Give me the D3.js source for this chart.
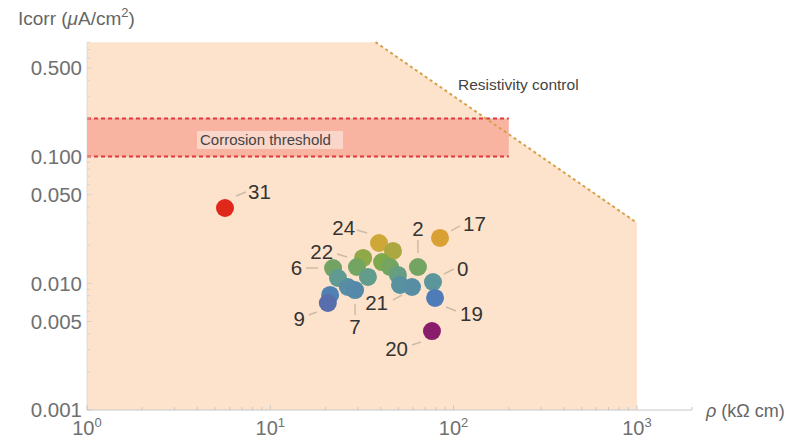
<!DOCTYPE html>
<html><head><meta charset="utf-8">
<script src="https://cdn.jsdelivr.net/npm/d3@7"></script>
<style>
html,body{margin:0;padding:0;background:#fff;}
text{font-family:"Liberation Sans",Arial,Helvetica,sans-serif;}
</style></head>
<body><svg id="chart" width="793" height="444"></svg>
<script>
// ---- data ----
const sampleIds = ["31","24","a1","17","2","22","a2","a3","a4","6","a5","a6","a7","a8","7","a9","21","0","19","a10","9","20"];
const resistivity = [5.66,39.2,46.7,84.3,63.9,32.1,29.7,40.7,45.0,22.0,34.1,49.7,23.4,26.5,29.0,51.0,59.3,77.2,79.2,21.2,20.6,76.2];
const icorr = [0.0393,0.0208,0.0180,0.0228,0.01345,0.01585,0.01345,0.01472,0.01345,0.0132,0.01122,0.01164,0.01101,0.00935,0.00885,0.0097,0.00935,0.01024,0.00766,0.00809,0.00699,0.00420];
const labelledIds = ["31","24","17","2","22","6","7","21","0","19","9","20"];
const yTickValues = [0.001,0.005,0.010,0.050,0.100,0.500];
const xTickValues = [1,10,100,1000];
const xTickExponents = ["0","1","2","3"];
const thresholdLow = 0.1, thresholdHigh = 0.2, thresholdMaxRho = 200;
const resistivityConstant = 30; // Icorr = k / rho
const xDomain = [1, 2000];
const yDomain = [0.001, 0.8];
const shadeMaxRho = 1000;

// ---- layout ----
const svg = d3.select("#chart");
const x = d3.scaleLog().domain(xDomain).range([87, 87 + 183.3*Math.log10(xDomain[1])]);
const y = d3.scaleLog().domain(yDomain).range([410, 410 - 126.7*Math.log10(yDomain[1]/yDomain[0])]);

// label placements (offsets in px relative to point): text pos, anchor, leader from/to
const labelPlace = {
  "31": {t:[23,-16],a:"start",l:[[11,-12],[21,-16]]},
  "24": {t:[-24,-15],a:"end",l:[[-22,-13],[-12,-10]]},
  "17": {t:[23,-14],a:"start",l:[[11,-7],[20,-12]]},
  "2":  {t:[0,-38],a:"middle",l:[[0,-27],[0,-14]]},
  "22": {t:[-30,-6],a:"end",l:[[-26,-4],[-16,-1]]},
  "6":  {t:[-31,0],a:"end",l:[[-27,0],[-15,0]]},
  "7":  {t:[0,37],a:"middle",l:[[0,14],[0,25]]},
  "21": {t:[-24,16],a:"end",l:[[-19,13],[-10,8]]},
  "0":  {t:[24,-13],a:"start",l:[[11,-8],[21,-13]]},
  "19": {t:[25,16],a:"start",l:[[11,9],[21,13]]},
  "9":  {t:[-23,16],a:"end",l:[[-19,12],[-11,9]]},
  "20": {t:[-24,18],a:"end",l:[[-20,14],[-11,11]]}
};

// shaded feasible region
const rhoTop = resistivityConstant / yDomain[1];
const region = [
  [xDomain[0], yDomain[0]], [xDomain[0], yDomain[1]], [rhoTop, yDomain[1]],
  [shadeMaxRho, resistivityConstant/shadeMaxRho], [shadeMaxRho, yDomain[0]]
];
svg.append("path")
  .attr("d", d3.line().x(d=>x(d[0])).y(d=>y(d[1]))(region) + "Z")
  .attr("fill", "#fde3cb");

// threshold band
svg.append("rect")
  .attr("x", x(xDomain[0])).attr("y", y(thresholdHigh))
  .attr("width", x(thresholdMaxRho)-x(xDomain[0]))
  .attr("height", y(thresholdLow)-y(thresholdHigh))
  .attr("fill", "#f9b3a1");
[thresholdLow, thresholdHigh].forEach(v=>{
  svg.append("line")
    .attr("x1", x(xDomain[0])).attr("x2", x(thresholdMaxRho))
    .attr("y1", y(v)).attr("y2", y(v))
    .attr("stroke", "#e0383a").attr("stroke-width", 2)
    .attr("stroke-dasharray", "4,3");
});

// resistivity control line
svg.append("line")
  .attr("x1", x(rhoTop)).attr("y1", y(yDomain[1]))
  .attr("x2", x(shadeMaxRho)).attr("y2", y(resistivityConstant/shadeMaxRho))
  .attr("stroke", "#d8a04a").attr("stroke-width", 2)
  .attr("stroke-dasharray", "3,3");

// axes
const axisColor = "#c8c8c8";
const tickColor = "#707070";
const xAxisG = svg.append("g");
xAxisG.append("line").attr("x1", x(xDomain[0])).attr("x2", x(xDomain[1]))
  .attr("y1", y(yDomain[0])).attr("y2", y(yDomain[0])).attr("stroke", axisColor);
const xMinor = [];
for (let d=1; d<xDomain[1]; d*=10) for (let k=1;k<10;k++){ if (d*k<=xDomain[1]) xMinor.push(d*k); }
xAxisG.selectAll("line.t").data(xMinor).enter().append("line")
  .attr("x1", d=>x(d)).attr("x2", d=>x(d))
  .attr("y1", y(yDomain[0])).attr("y2", d=> y(yDomain[0]) - (xTickValues.includes(d)?5:3))
  .attr("stroke", axisColor);
xTickValues.forEach((v,i)=>{
  const t = xAxisG.append("text").attr("x", x(v)).attr("y", 435)
    .attr("text-anchor","middle").attr("fill", tickColor).attr("font-size", 20);
  t.append("tspan").text("10");
  t.append("tspan").attr("dy", -8).attr("font-size", 13).text(xTickExponents[i]);
});

const yAxisG = svg.append("g");
yAxisG.append("line").attr("x1", x(xDomain[0])).attr("x2", x(xDomain[0]))
  .attr("y1", y(yDomain[0])).attr("y2", y(yDomain[1])).attr("stroke", axisColor).attr("stroke-opacity",0.5);
const yMinor = [];
for (let d=0.001; d<yDomain[1]*1.0001; d*=10) for (let k=1;k<10;k++){ const v=d*k; if (v<=yDomain[1]*1.0001) yMinor.push(v); }
yAxisG.selectAll("line.t").data(yMinor).enter().append("line")
  .attr("x1", x(xDomain[0])).attr("x2", d=> x(xDomain[0]) + (yTickValues.some(t=>Math.abs(t-d)<1e-9)?5:3))
  .attr("y1", d=>y(d)).attr("y2", d=>y(d))
  .attr("stroke", axisColor).attr("stroke-opacity",0.6);
yAxisG.selectAll("text").data(yTickValues).enter().append("text")
  .attr("x", 82).attr("y", d=>y(d)).attr("dy","0.36em")
  .attr("text-anchor","end").attr("fill", tickColor).attr("font-size", 20.5)
  .text(d=>d3.format(".3f")(d));

// axis titles
const yt = svg.append("text").attr("x", 18).attr("y", 25).attr("fill", "#666").attr("font-size", 19);
yt.append("tspan").text("Icorr (");
yt.append("tspan").attr("font-style","italic").text("μ");
yt.append("tspan").text("A/cm");
yt.append("tspan").attr("dy",-8).attr("font-size",13).text("2");
yt.append("tspan").attr("dy",8).text(")");
const xt = svg.append("text").attr("x", 706).attr("y", 411).attr("dy","0.36em").attr("fill","#666").attr("font-size",18);
xt.append("tspan").attr("font-style","italic").text("ρ");
xt.append("tspan").text(" (kΩ cm)");

// region labels
svg.append("rect").attr("x",197).attr("y",131).attr("width",146).attr("height",18)
  .attr("fill","#fbe4da").attr("opacity",0.7);
svg.append("text").attr("x",200).attr("y",140).attr("dy","0.36em").attr("font-size",15)
  .attr("fill","#444").text("Corrosion threshold");
svg.append("text").attr("x",458).attr("y",84).attr("dy","0.36em").attr("font-size",15.5)
  .attr("fill","#444").text("Resistivity control");

// points
const logMin = Math.log10(d3.min(icorr)), logMax = Math.log10(d3.max(icorr));
const rainbow = d3.scaleLinear()
  .domain([0,0.27,0.42,0.56,0.74,1])
  .range(["#8a1c6c","#4f7cb8","#5c9a96","#7ea84c","#d9a836","#e0281a"])
  .interpolate(d3.interpolateRgb);
const pts = sampleIds.map((id,i)=>({id, rho:resistivity[i], ic:icorr[i]}));
svg.append("g").selectAll("circle").data(pts).enter().append("circle")
  .attr("cx", d=>x(d.rho)).attr("cy", d=>y(d.ic)).attr("r", 9)
  .attr("fill", d=>rainbow((Math.log10(d.ic)-logMin)/(logMax-logMin)));

// labels
const lg = svg.append("g");
pts.filter(d=>labelledIds.includes(d.id)).forEach(d=>{
  const p = labelPlace[d.id]; const cx = x(d.rho), cy = y(d.ic);
  lg.append("line").attr("x1",cx+p.l[0][0]).attr("y1",cy+p.l[0][1])
    .attr("x2",cx+p.l[1][0]).attr("y2",cy+p.l[1][1])
    .attr("stroke","#cdbba8").attr("stroke-width",1.5);
  lg.append("text").attr("x",cx+p.t[0]).attr("y",cy+p.t[1]).attr("dy","0.36em")
    .attr("text-anchor",p.a).attr("font-size",20.5).attr("fill","#333").text(d.id);
});
</script></body></html>
